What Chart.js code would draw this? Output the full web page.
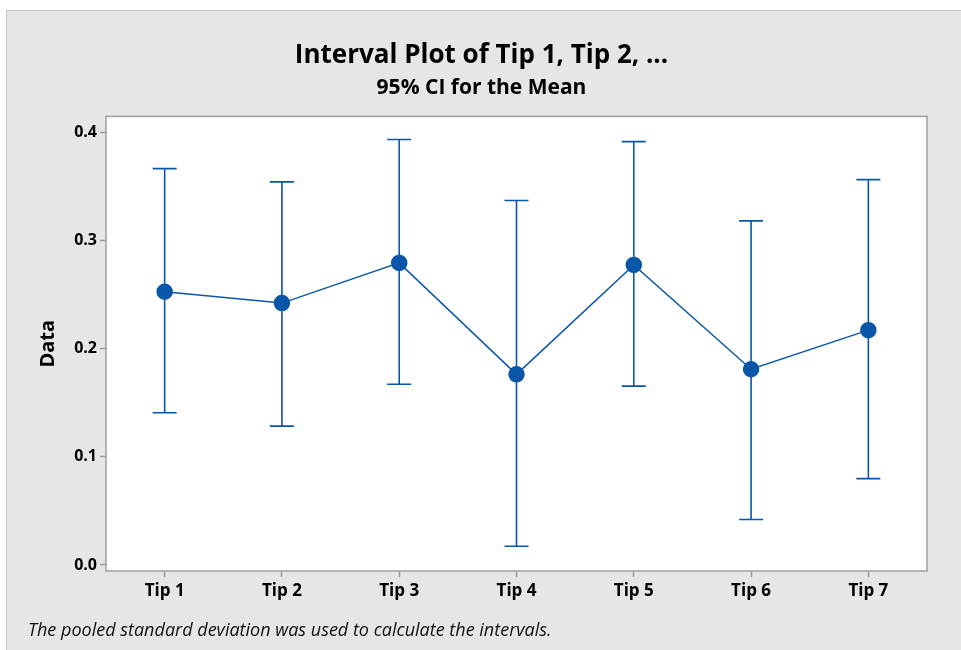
<!DOCTYPE html>
<html>
<head>
<meta charset="utf-8">
<script src="https://cdn.jsdelivr.net/npm/chart.js@4"></script>
<style>
  html, body { margin: 0; padding: 0; background: #fff; }
  #wrap { width: 961px; height: 650px; }
</style>
</head>
<body>
<div id="wrap"><canvas id="interval_plot"></canvas></div>
<script>
// values
const tips = ['Tip 1', 'Tip 2', 'Tip 3', 'Tip 4', 'Tip 5', 'Tip 6', 'Tip 7'];
const means = [0.2527, 0.2422, 0.2794, 0.1763, 0.2775, 0.1810, 0.2172];
const upper = [0.3666, 0.3543, 0.3935, 0.3371, 0.3916, 0.3183, 0.3564];
const lower = [0.1408, 0.1284, 0.1671, 0.0173, 0.1654, 0.0420, 0.0798];
const yTicks = [0.0, 0.1, 0.2, 0.3, 0.4];

const blue = '#0a56a8';
const fontFam = '"Open Sans", "Noto Sans", sans-serif';

// gray panel + white plot box
const backdrop = {
  id: 'backdrop',
  beforeDraw(chart) {
    const ctx = chart.ctx, a = chart.chartArea;
    ctx.save();
    ctx.fillStyle = '#ffffff';
    ctx.fillRect(0, 0, chart.width, chart.height);
    ctx.fillStyle = '#e6e6e6';
    ctx.fillRect(6, 10, chart.width - 6, chart.height - 10);
    ctx.strokeStyle = '#c8c8c8';
    ctx.lineWidth = 1;
    ctx.strokeRect(6.5, 10.5, chart.width, chart.height);
    ctx.fillStyle = '#ffffff';
    ctx.fillRect(a.left, a.top, a.right - a.left, a.bottom - a.top);
    ctx.strokeStyle = '#a0a0a0';
    ctx.lineWidth = 1.5;
    ctx.strokeRect(a.left, a.top, a.right - a.left, a.bottom - a.top);
    ctx.restore();
  },
  afterDraw(chart) {
    const ctx = chart.ctx;
    ctx.save();
    ctx.fillStyle = '#111';
    ctx.font = 'italic 18px ' + fontFam;
    ctx.textBaseline = 'middle';
    ctx.fillText('The pooled standard deviation was used to calculate the intervals.', 28, 631);
    ctx.restore();
  }
};

// 95% CI whiskers
const whiskers = {
  id: 'whiskers',
  beforeDatasetsDraw(chart) {
    const ctx = chart.ctx;
    const xs = chart.scales.x, ys = chart.scales.y;
    ctx.save();
    ctx.strokeStyle = blue;
    ctx.lineWidth = 1.6;
    for (let i = 0; i < tips.length; i++) {
      const x = xs.getPixelForValue(i);
      const yU = ys.getPixelForValue(upper[i]);
      const yL = ys.getPixelForValue(lower[i]);
      ctx.beginPath();
      ctx.moveTo(x, yU); ctx.lineTo(x, yL);
      ctx.moveTo(x - 12, yU); ctx.lineTo(x + 12, yU);
      ctx.moveTo(x - 12, yL); ctx.lineTo(x + 12, yL);
      ctx.stroke();
    }
    ctx.restore();
  }
};

new Chart(document.getElementById('interval_plot'), {
  type: 'line',
  data: {
    labels: tips,
    datasets: [{
      data: means,
      borderColor: blue,
      backgroundColor: blue,
      borderWidth: 1.5,
      pointRadius: 7.5,
      pointHoverRadius: 7.5,
      tension: 0
    }]
  },
  options: {
    responsive: true,
    maintainAspectRatio: false,
    animation: false,
    layout: { padding: { left: 36, right: 34, top: 0, bottom: 49 } },
    plugins: {
      legend: { display: false },
      tooltip: { enabled: false },
      title: {
        display: true,
        text: 'Interval Plot of Tip 1, Tip 2, ...',
        color: '#000',
        font: { family: fontFam, size: 26, weight: 'bold' },
        padding: { top: 40, bottom: 0 }
      },
      subtitle: {
        display: true,
        text: '95% CI for the Mean',
        color: '#000',
        font: { family: fontFam, size: 21, weight: 'bold' },
        padding: { top: 4, bottom: 16 }
      }
    },
    scales: {
      x: {
        type: 'category',
        offset: true,
        border: { display: false },
        grid: { drawOnChartArea: false, tickLength: 6, color: '#9a9a9a', tickWidth: 1.5 },
        ticks: { color: '#000', padding: 4, font: { family: fontFam, size: 17, weight: 'bold' } },
        afterFit(scale) { scale.height = 30; }
      },
      y: {
        min: -0.0056,
        max: 0.4149,
        border: { display: false },
        afterBuildTicks(scale) { scale.ticks = yTicks.map(v => ({ value: v })); },
        grid: { drawOnChartArea: false, tickLength: 6, color: '#9a9a9a', tickWidth: 1.5 },
        ticks: {
          color: '#000',
          padding: 3,
          font: { family: fontFam, size: 16, weight: 'bold' },
          callback: v => v.toFixed(1)
        },
        title: {
          display: true,
          text: 'Data',
          color: '#000',
          padding: 0,
          font: { family: fontFam, size: 20, weight: 'bold' }
        },
        afterFit(scale) { scale.width = 70; }
      }
    }
  },
  plugins: [backdrop, whiskers]
});
</script>
</body>
</html>
